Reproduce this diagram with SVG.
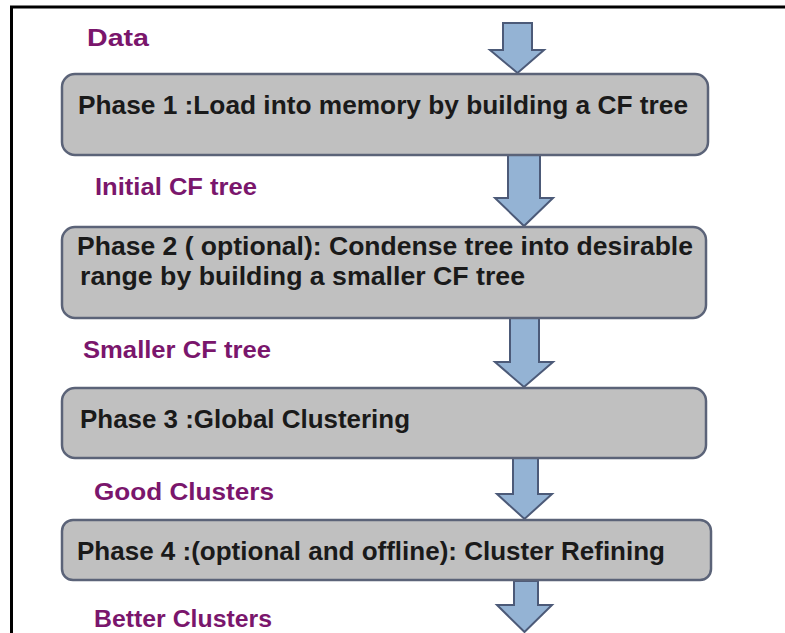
<svg xmlns="http://www.w3.org/2000/svg" width="785" height="633" viewBox="0 0 785 633">
  <defs>
    <style>
      .box { fill: #c0c0c0; stroke: #5b6378; stroke-width: 2.5; }
      .arrow { fill: #94b3d4; stroke: #4c5a78; stroke-width: 2; stroke-linejoin: miter; }
      .phase { font-family: "Liberation Sans", Arial, sans-serif; font-weight: bold; font-size: 25px; fill: #1a1a1a; }
      .label { font-family: "Liberation Sans", Arial, sans-serif; font-weight: bold; font-size: 23px; fill: #7a166c; }
      .frame { stroke: #000; stroke-width: 3; fill: none; }
    </style>
  </defs>
  <rect width="785" height="633" fill="#fff"/>
  <!-- frame -->
  <path class="frame" d="M11.5,633 V7 H785"/>

  <!-- connectors -->
  <g id="connectors">
    <path class="arrow" d="M503,23 H532 V50 H544 L517.5,73 L490,50 H503 Z"/>
    <path class="arrow" d="M508,155 H540 V198 H553 L524,226 L495,198 H508 Z"/>
    <path class="arrow" d="M510,318 H539 V362 H553 L524,387 L495,362 H510 Z"/>
    <path class="arrow" d="M513,458 H538 V494 H552 L524.5,519 L497,494 H513 Z"/>
    <path class="arrow" d="M514,581 H538 V605 H552 L524.5,632 L497,605 H514 Z"/>
  </g>

  <g id="label-data"><text class="label" x="87" y="46" textLength="62" lengthAdjust="spacingAndGlyphs">Data</text></g>

  <g id="phase1">
    <rect class="box" x="62" y="74" width="646" height="81" rx="13"/>
    <text class="phase" x="78" y="114" textLength="610" lengthAdjust="spacingAndGlyphs">Phase 1 :Load into memory by building a CF tree</text>
  </g>

  <g id="label-initial"><text class="label" x="95" y="195" textLength="162" lengthAdjust="spacingAndGlyphs">Initial CF tree</text></g>

  <g id="phase2">
    <rect class="box" x="62" y="227" width="644" height="91" rx="13"/>
    <text class="phase" x="77" y="255" textLength="616" lengthAdjust="spacingAndGlyphs">Phase 2 ( optional): Condense tree into desirable</text>
    <text class="phase" x="80" y="285" textLength="445" lengthAdjust="spacingAndGlyphs">range by building a smaller CF tree</text>
  </g>

  <g id="label-smaller"><text class="label" x="83" y="358" textLength="188" lengthAdjust="spacingAndGlyphs">Smaller CF tree</text></g>

  <g id="phase3">
    <rect class="box" x="62" y="388" width="644" height="70" rx="13"/>
    <text class="phase" x="80" y="428" textLength="330" lengthAdjust="spacingAndGlyphs">Phase 3 :Global Clustering</text>
  </g>

  <g id="label-good"><text class="label" x="94" y="500" textLength="180" lengthAdjust="spacingAndGlyphs">Good Clusters</text></g>

  <g id="phase4">
    <rect class="box" x="62" y="520" width="649" height="60" rx="11"/>
    <text class="phase" x="77" y="560" textLength="588" lengthAdjust="spacingAndGlyphs">Phase 4 :(optional and offline): Cluster Refining</text>
  </g>

  <g id="label-better"><text class="label" x="94" y="627" font-size="22" textLength="178" lengthAdjust="spacingAndGlyphs">Better Clusters</text></g>
</svg>
